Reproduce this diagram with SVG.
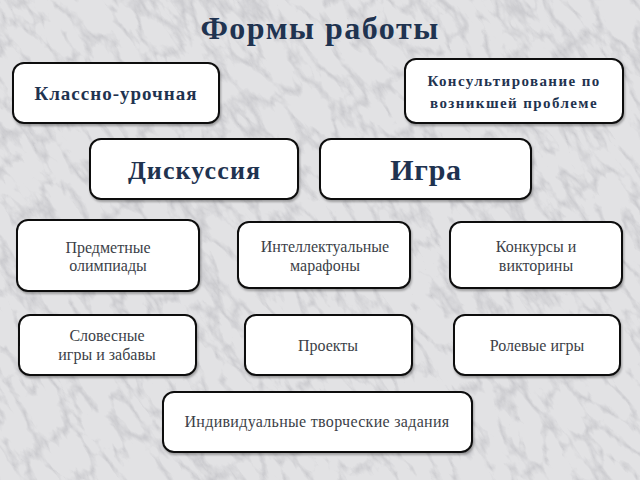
<svg xmlns="http://www.w3.org/2000/svg" width="640" height="480" viewBox="0 0 640 480">
<defs>
<filter id="marble" x="0" y="0" width="100%" height="100%">
<feTurbulence type="turbulence" baseFrequency="0.05 0.02" numOctaves="4" seed="11" result="n"/>
<feColorMatrix type="matrix" values="0 0 0 0 0.5  0 0 0 0 0.5  0 0 0 0 0.53  -3.2 0 0 0 1.0" in="n"/>
</filter>
<filter id="sh" x="-10%" y="-10%" width="120%" height="130%">
<feDropShadow dx="1" dy="2" stdDeviation="1.2" flood-color="#000" flood-opacity="0.3"/>
</filter>
</defs>
<style>
.box{fill:#fff;stroke:#111;stroke-width:2;filter:url(#sh)}
.hb{font-family:"Liberation Serif","Times New Roman",serif;font-weight:bold;fill:#1f3350;text-anchor:middle}
.t{font-family:"Liberation Serif","Times New Roman",serif;font-size:16px;fill:#3c3f48;text-anchor:middle}
</style>
<rect width="640" height="480" fill="#e2e2e4"/>
<g transform="rotate(-35 320 240)"><rect x="-200" y="-200" width="1040" height="880" filter="url(#marble)" opacity="0.7"/></g>
<text x="320" y="39" class="hb" font-size="32" letter-spacing="1.5">Формы работы</text>
<g id="n1"><rect class="box" x="13" y="63" width="206" height="60" rx="11"/><text x="116" y="100" class="hb" font-size="19" letter-spacing="1">Классно-урочная</text></g>
<g id="n2"><rect class="box" x="405" y="59" width="218" height="64" rx="11"/><text x="514" y="86" class="hb" font-size="15" letter-spacing="1.4">Консультирование по</text><text x="514" y="108" class="hb" font-size="15" letter-spacing="1.4">возникшей проблеме</text></g>
<g id="n3"><rect class="box" x="90" y="139" width="208" height="60" rx="11"/><text x="194.5" y="179" class="hb" font-size="26" letter-spacing="1.1">Дискуссия</text></g>
<g id="n4"><rect class="box" x="320" y="139" width="211" height="60" rx="11"/><text x="426" y="180" class="hb" font-size="30" letter-spacing="0.75">Игра</text></g>
<g id="n5"><rect class="box" x="17" y="220" width="182" height="71" rx="11"/><text x="108" y="253" class="t">Предметные</text><text x="108" y="271" class="t">олимпиады</text></g>
<g id="n6"><rect class="box" x="238" y="222" width="172" height="66" rx="11"/><text x="325" y="252" class="t">Интеллектуальные</text><text x="325" y="271" class="t">марафоны</text></g>
<g id="n7"><rect class="box" x="450" y="222" width="172" height="66" rx="11"/><text x="536" y="252" class="t">Конкурсы и</text><text x="536" y="271" class="t">викторины</text></g>
<g id="n8"><rect class="box" x="19" y="315" width="177" height="60" rx="11"/><text x="107" y="341" class="t">Словесные</text><text x="107" y="360" class="t">игры и забавы</text></g>
<g id="n9"><rect class="box" x="245" y="315" width="167" height="60" rx="11"/><text x="328" y="351" class="t">Проекты</text></g>
<g id="n10"><rect class="box" x="454" y="315" width="166" height="60" rx="11"/><text x="537" y="351" class="t">Ролевые игры</text></g>
<g id="n11"><rect class="box" x="163" y="392" width="309" height="60" rx="11"/><text x="317" y="427" class="t" font-size="17" letter-spacing="0.3">Индивидуальные творческие задания</text></g>
<g id="connectors"/>
</svg>
